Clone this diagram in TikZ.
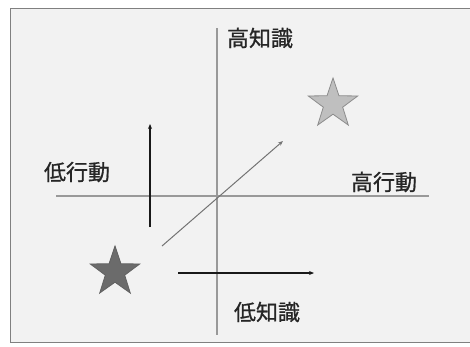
\documentclass[tikz,border=0pt]{standalone}
\usepackage{fontspec}
\newfontfamily\cjk[FakeBold=0.8]{Noto Sans CJK JP}
\usetikzlibrary{shapes.geometric,arrows.meta}
\begin{document}
\begin{tikzpicture}[x=1pt,y=-1pt,
  lbl/.style={font=\cjk\fontsize{22}{22}\selectfont, text=black!85, inner sep=0pt},
  axis/.style={draw=black!40, line width=1.1pt},
  bigarrow/.style={draw=black!90, line width=1.6pt, -{Stealth[length=5pt,width=4pt]}},
  diagarrow/.style={draw=black!55, line width=1pt, -{Stealth[length=5pt,width=4pt]}},
  starshape/.style={star, star points=5, star point ratio=2.55, minimum size=52pt, inner sep=0pt, line width=0.8pt}]
\useasboundingbox (0,0) rectangle (470,346);
\fill[white] (0,0) rectangle (470,346);
\fill[black!5] (10,8) rectangle (475,342);
\draw[black!50, line width=0.8pt] (475,8) -- (10,8) -- (10,342) -- (475,342);
% axes
\coordinate (vtop) at (217,28);
\coordinate (vbot) at (217,335);
\coordinate (hleft) at (56,196);
\coordinate (hright) at (429,196);
\draw[axis] (vtop) -- (vbot);
\draw[axis] (hleft) -- (hright);
% labels
\node[lbl] (hk) at (260,38) {高知識};
\node[lbl] (lb) at (77,172) {低行動};
\node[lbl] (hb) at (384,182) {高行動};
\node[lbl] (lk) at (267,312) {低知識};
% stars
\node[starshape, fill=black!25, draw=black!45] (s1) at (333,104) {};
\node[starshape, fill=black!58, draw=black!62] (s2) at (115,272) {};
% arrows
\coordinate (a1s) at (150,227);
\coordinate (a1e) at (150,124);
\coordinate (a2s) at (178,273);
\coordinate (a2e) at (314,273);
\coordinate (a3s) at (162,246);
\coordinate (a3e) at (283,141);
\draw[bigarrow] (a1s) -- (a1e);
\draw[bigarrow] (a2s) -- (a2e);
\draw[diagarrow] (a3s) -- (a3e);
\end{tikzpicture}
\end{document}
